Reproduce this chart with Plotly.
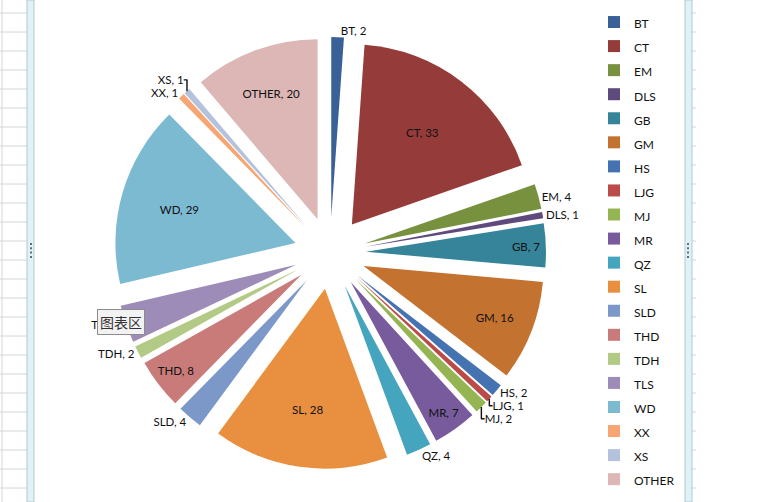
import plotly.graph_objects as go

categories = ["BT", "CT", "EM", "DLS", "GB", "GM", "HS", "LJG", "MJ", "MR",
              "QZ", "SL", "SLD", "THD", "TDH", "TLS", "WD", "XX", "XS", "OTHER"]
values = [2, 33, 4, 1, 7, 16, 2, 1, 2, 7, 4, 28, 4, 8, 2, 6, 29, 1, 1, 20]
colors = ["#3A6197", "#953B39", "#77913F", "#5E4A7D", "#35849A", "#C4722F",
          "#4572B1", "#BB4B48", "#95B553", "#785B9C", "#46A5BE", "#E8903F",
          "#7B98C9", "#C97B7A", "#B2CA85", "#9D8BB8", "#7CBAD1", "#F6A673",
          "#B4C2DD", "#DDB6B6"]
inside_labels = {"CT", "GB", "GM", "MR", "SL", "THD", "WD", "OTHER"}
text_positions = ["inside" if c in inside_labels else "outside" for c in categories]
# legend entries: small text, but taller rows (row height follows legend font size)
legend_labels = ["<span style='font-size:12px'>%s</span>" % c for c in categories]

W, H = 768, 502


def px(x):
    return x / W


def py(y):
    return 1 - y / H


fig = go.Figure(go.Pie(
    labels=legend_labels,
    values=values,
    text=categories,
    sort=False,
    direction="clockwise",
    rotation=0,
    pull=0.2,
    marker=dict(colors=colors, line=dict(width=0)),
    texttemplate="%{text}, %{value}",
    hovertemplate="%{text}: %{value}<extra></extra>",
    textposition=text_positions,
    insidetextorientation="horizontal",
    textfont=dict(family="Lato, Carlito, sans-serif", size=11.5, color="#111111"),
    domain=dict(x=[px(114), px(546)], y=[py(470), py(36)]),
))

shapes = []
# spreadsheet grid around the chart object
for k in range(27):
    y = 13 + 19 * k
    shapes.append(dict(type="line", xref="paper", yref="paper",
                       x0=0, x1=px(27), y0=py(y), y1=py(y),
                       line=dict(color="#D4D6D8", width=1)))
    shapes.append(dict(type="line", xref="paper", yref="paper",
                       x0=px(692), x1=px(696), y0=py(y), y1=py(y),
                       line=dict(color="#D4D6D8", width=1)))
shapes.append(dict(type="line", xref="paper", yref="paper",
                   x0=px(2), x1=px(2), y0=0, y1=1,
                   line=dict(color="#D4D6D8", width=1)))
# chart frame strips
for x0, x1 in [(27, 34), (685, 692)]:
    shapes.append(dict(type="rect", xref="paper", yref="paper",
                       x0=px(x0), x1=px(x1), y0=0, y1=1,
                       fillcolor="#DFF3F7", line=dict(color="#B5C7CC", width=1)))
# resize grips on the frame
for x in (31, 688):
    for j in range(4):
        y = 244 + 4.3 * j
        shapes.append(dict(type="rect", xref="paper", yref="paper",
                           x0=px(x - 1), x1=px(x + 1), y0=py(y + 1), y1=py(y - 1),
                           fillcolor="#5F6F7A", line=dict(width=0)))

annotations = [
    dict(text="图表区", xref="paper", yref="paper", x=px(121), y=py(322),
         xanchor="center", yanchor="middle",
         showarrow=False, font=dict(family="Noto Sans CJK SC", size=14, color="#333333"),
         bgcolor="#F2F2F2", bordercolor="#8C8C8C", borderwidth=1, borderpad=2),
]

fig.update_layout(
    width=W, height=H,
    margin=dict(l=0, r=0, t=0, b=0, autoexpand=False),
    paper_bgcolor="white",
    plot_bgcolor="white",
    showlegend=True,
    legend=dict(
        x=px(594), y=py(5), xanchor="left", yanchor="top",
        font=dict(family="Lato, Carlito, sans-serif", size=16.2, color="#111111"),
        bgcolor="rgba(0,0,0,0)",
    ),
    shapes=shapes,
    annotations=annotations,
)

fig.write_html("out.html",
               config={"displayModeBar": False},
               post_script="document.body.style.margin='0';")
